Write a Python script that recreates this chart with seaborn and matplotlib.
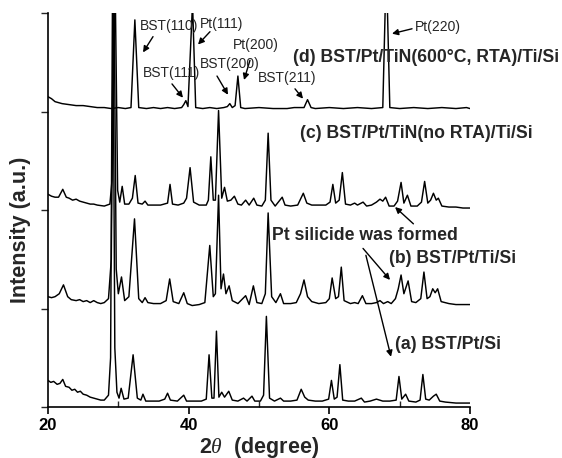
import matplotlib
matplotlib.use("Agg")
import matplotlib.pyplot as plt
import seaborn as sns
import pandas as pd
from matplotlib.ticker import FixedLocator

# ---------------- data ----------------
d_x = [20.0, 20.5, 21.0, 21.5, 22.0, 23.0, 24.0, 25.0, 26.0, 27.0, 28.0, 29.0, 30.0, 31.0, 31.8,
       32.35, 32.9, 34.0, 35.0, 36.0, 37.0, 38.0, 39.0, 39.3, 39.6, 39.9, 40.55, 41.0, 42.0, 43.0,
       44.0, 45.0, 45.5, 45.85, 46.2, 46.6, 47.0, 47.4, 48.0, 50.0, 52.0, 54.0, 55.0, 56.4, 56.9,
       57.4, 58.0, 60.0, 62.0, 64.0, 66.0, 67.6, 68.1, 68.6, 70.0, 72.0, 74.0, 76.0, 78.0, 79.5, 80.0]
d_y = [3.15, 3.13, 3.10, 3.09, 3.08, 3.07, 3.06, 3.06, 3.05, 3.04, 3.04, 3.03, 3.04, 3.03, 3.04,
       3.93, 3.04, 3.03, 3.04, 3.03, 3.04, 3.03, 3.04, 3.07, 3.11, 3.05, 4.10, 3.04, 3.03, 3.04,
       3.03, 3.04, 3.05, 3.08, 3.04, 3.06, 3.36, 3.04, 3.03, 3.04, 3.03, 3.03, 3.04, 3.04, 3.12,
       3.04, 3.03, 3.04, 3.03, 3.04, 3.03, 3.04, 4.50, 3.04, 3.03, 3.04, 3.03, 3.04, 3.03, 3.04, 3.03]

c_x = [20.0, 20.5, 21.0, 21.5, 22.1, 22.6, 23.0, 23.5, 24.0, 24.5, 25.0, 25.5, 26.0, 26.5, 27.0,
       28.0, 28.8, 29.1, 29.5, 29.9, 30.2, 30.55, 30.9, 31.5, 32.0, 32.4, 32.8, 33.4, 33.8, 34.2,
       35.0, 36.0, 37.0, 37.35, 37.7, 38.5, 39.3, 39.7, 40.2, 40.7, 41.5, 42.5, 42.8, 43.15, 43.5,
       43.8, 44.25, 44.7, 45.1, 45.5, 46.0, 46.5, 47.0, 47.5, 48.1, 48.6, 49.25, 49.7, 50.4, 50.9,
       51.3, 51.7, 52.3, 53.3, 53.7, 54.5, 55.5, 56.3, 56.8, 57.5, 58.5, 59.5, 60.1, 60.5, 60.9,
       61.4, 61.85, 62.3, 63.0, 63.6, 64.0, 64.8, 65.3, 66.0, 66.7, 67.2, 67.6, 68.0, 68.5, 69.2,
       69.7, 70.2, 70.6, 71.1, 71.6, 72.5, 73.1, 73.55, 74.0, 74.4, 74.8, 75.2, 75.5, 76.0, 77.0,
       78.0, 79.0, 80.0]
c_y = [2.16, 2.14, 2.13, 2.13, 2.21, 2.13, 2.12, 2.10, 2.11, 2.09, 2.08, 2.07, 2.06, 2.06, 2.05,
       2.04, 2.06, 2.30, 4.60, 2.20, 2.08, 2.24, 2.06, 2.06, 2.12, 2.35, 2.07, 2.06, 2.09, 2.05,
       2.05, 2.05, 2.07, 2.26, 2.06, 2.05, 2.07, 2.12, 2.43, 2.08, 2.05, 2.05, 2.10, 2.54, 2.10,
       2.10, 3.01, 2.12, 2.23, 2.09, 2.10, 2.14, 2.06, 2.05, 2.10, 2.05, 2.12, 2.05, 2.04, 2.10,
       2.78, 2.10, 2.04, 2.13, 2.05, 2.04, 2.05, 2.17, 2.07, 2.05, 2.05, 2.05, 2.08, 2.26, 2.07,
       2.10, 2.38, 2.06, 2.05, 2.07, 2.05, 2.08, 2.04, 2.05, 2.08, 2.11, 2.09, 2.13, 2.04, 2.04,
       2.09, 2.28, 2.07, 2.15, 2.04, 2.04, 2.08, 2.29, 2.07, 2.10, 2.17, 2.10, 2.12, 2.04, 2.03,
       2.03, 2.02, 2.02]

b_x = [20.0, 20.5, 21.0, 21.6, 22.2, 22.8, 23.3, 24.0, 24.5, 25.0, 25.5, 26.0, 26.5, 27.0, 27.5,
       28.0, 28.6, 29.0, 29.35, 29.7, 30.0, 30.45, 30.9, 31.5, 32.3, 32.9, 33.4, 33.8, 34.2, 35.0,
       36.0, 36.8, 37.3, 37.8, 38.6, 39.3, 39.8, 40.5, 41.5, 42.3, 43.0, 43.5, 43.8, 44.25, 44.6,
       44.95, 45.3, 45.75, 46.2, 47.0, 48.1, 48.6, 49.2, 49.7, 50.4, 50.9, 51.3, 51.8, 52.4, 53.05,
       53.5, 54.5, 55.3, 55.9, 56.4, 56.9, 57.5, 58.5, 59.5, 60.0, 60.4, 60.9, 61.3, 61.7, 62.1,
       63.0, 63.6, 64.1, 64.7, 65.2, 66.0, 66.7, 67.2, 67.7, 68.3, 68.8, 69.4, 69.8, 70.2, 70.6,
       71.2, 71.7, 72.3, 73.0, 73.45, 73.9, 74.3, 74.7, 75.05, 75.4, 75.9, 77.0, 78.0, 79.0, 80.0]
b_y = [1.12, 1.11, 1.12, 1.15, 1.24, 1.12, 1.09, 1.08, 1.09, 1.07, 1.08, 1.06, 1.08, 1.06, 1.05,
       1.06, 1.10, 1.50, 4.60, 1.40, 1.15, 1.32, 1.08, 1.12, 1.91, 1.10, 1.06, 1.11, 1.06, 1.05,
       1.05, 1.08, 1.30, 1.07, 1.05, 1.16, 1.05, 1.03, 1.04, 1.06, 1.64, 1.12, 1.15, 2.15, 1.20,
       1.35, 1.15, 1.23, 1.08, 1.05, 1.13, 1.04, 1.23, 1.06, 1.05, 1.15, 1.97, 1.12, 1.06, 1.15,
       1.05, 1.05, 1.06, 1.15, 1.29, 1.12, 1.07, 1.05, 1.06, 1.10, 1.31, 1.10, 1.12, 1.42, 1.08,
       1.05, 1.06, 1.05, 1.13, 1.05, 1.05, 1.06, 1.08, 1.05, 1.07, 1.05, 1.10, 1.20, 1.34, 1.15,
       1.28, 1.07, 1.06, 1.10, 1.37, 1.10, 1.12, 1.20, 1.16, 1.20, 1.07, 1.05, 1.04, 1.04, 1.04]

a_x = [20.0, 20.4, 20.8, 21.3, 21.7, 22.1, 22.5, 23.0, 23.4, 23.8, 24.2, 24.6, 25.0, 25.5, 26.0,
       26.5, 27.0, 27.5, 28.0, 28.6, 28.9, 29.2, 29.5, 29.8, 30.1, 30.4, 30.8, 31.4, 32.1, 32.7,
       33.2, 33.5, 33.9, 34.8, 35.8, 36.6, 37.0, 37.4, 38.4, 39.3, 39.7, 40.8, 41.8, 42.5, 42.9,
       43.3, 43.6, 43.95, 44.3, 44.7, 45.1, 45.7, 46.2, 47.0, 47.8, 48.3, 49.0, 49.4, 50.2, 50.65,
       51.05, 51.5, 52.2, 53.05, 53.5, 54.5, 55.4, 56.0, 56.5, 57.0, 58.0, 59.0, 59.9, 60.3, 60.7,
       61.1, 61.5, 61.9, 62.7, 63.6, 64.55, 65.0, 65.8, 66.7, 67.6, 68.6, 69.5, 69.9, 70.3, 70.85,
       71.3, 72.3, 72.9, 73.3, 73.7, 74.2, 74.8, 75.2, 75.7, 76.5, 78.0, 79.0, 80.0]
a_y = [0.27, 0.25, 0.26, 0.23, 0.24, 0.28, 0.21, 0.20, 0.17, 0.18, 0.15, 0.16, 0.13, 0.12, 0.10,
       0.09, 0.08, 0.07, 0.07, 0.12, 0.50, 4.60, 0.60, 0.15, 0.09, 0.19, 0.08, 0.09, 0.53, 0.09,
       0.07, 0.13, 0.06, 0.06, 0.06, 0.08, 0.14, 0.07, 0.06, 0.12, 0.06, 0.06, 0.06, 0.08, 0.53,
       0.09, 0.09, 0.77, 0.10, 0.15, 0.10, 0.16, 0.07, 0.06, 0.09, 0.06, 0.11, 0.06, 0.06, 0.12,
       0.92, 0.09, 0.06, 0.09, 0.06, 0.06, 0.07, 0.18, 0.10, 0.07, 0.06, 0.06, 0.08, 0.27, 0.08,
       0.10, 0.43, 0.07, 0.06, 0.06, 0.09, 0.05, 0.06, 0.08, 0.06, 0.06, 0.07, 0.31, 0.08, 0.13,
       0.06, 0.05, 0.07, 0.33, 0.08, 0.07, 0.11, 0.13, 0.06, 0.05, 0.04, 0.04, 0.04]

trace_names = ["(a) BST/Pt/Si", "(b) BST/Pt/Ti/Si",
               "(c) BST/Pt/TiN(no RTA)/Ti/Si", "(d) BST/Pt/TiN(600°C, RTA)/Ti/Si"]
x_ticks = [20, 40, 60, 80]
x_minor = [30, 50, 70]
y_ticks = [0, 1, 2, 3, 4]

frames = []
for name, xs, ys in zip(trace_names, [a_x, b_x, c_x, d_x], [a_y, b_y, c_y, d_y]):
    frames.append(pd.DataFrame({"two_theta": xs, "intensity": ys, "sample": name}))
df = pd.concat(frames, ignore_index=True)

# ---------------- figure ----------------
sns.set_theme(style="ticks")
plt.rcParams["font.family"] = ["Liberation Sans", "DejaVu Sans"]
plt.rcParams["mathtext.fontset"] = "custom"
plt.rcParams["mathtext.it"] = "Liberation Serif:italic"
plt.rcParams["mathtext.rm"] = "Liberation Sans:bold"

fig = plt.figure(figsize=(5.62, 4.58), dpi=100)
ax = fig.add_axes([48 / 562, 1 - 407 / 458, (470 - 48) / 562, (407 - 13) / 458])

for name in trace_names:
    sub = df[df["sample"] == name]
    sns.lineplot(data=sub, x="two_theta", y="intensity", ax=ax, color="black",
                 linewidth=1.05, estimator=None, sort=False, legend=False)

ax.set_xlim(20, 80)
ax.set_ylim(0, 4)
ax.xaxis.set_major_locator(FixedLocator(x_ticks))
ax.xaxis.set_minor_locator(FixedLocator(x_minor))
ax.yaxis.set_major_locator(FixedLocator(y_ticks))
ax.set_yticklabels([])
ax.tick_params(axis="x", which="major", direction="out", length=5, width=1.2,
               labelsize=12, pad=3, colors="black")
ax.tick_params(axis="x", which="minor", direction="in", length=4, width=1.0)
ax.tick_params(axis="y", which="major", direction="out", length=5, width=1.0)
for lab in ax.get_xticklabels():
    lab.set_fontweight("bold")
for s in ["top", "right"]:
    ax.spines[s].set_visible(False)
for s in ["left", "bottom"]:
    ax.spines[s].set_linewidth(1.2)
    ax.spines[s].set_color("black")

ax.set_xlabel(r"2$\mathit{\theta}$  (degree)", fontsize=15.5, fontweight="bold", labelpad=1)
ax.set_ylabel("Intensity (a.u.)", fontsize=15.5, fontweight="bold")
ax.yaxis.set_label_coords(-0.04, 0.45)

# sample labels
big = dict(fontsize=12.7, fontweight="bold", ha="left", va="center")
ax.text(54.8, 3.55, trace_names[3], **big)
ax.text(55.8, 2.78, trace_names[2], **big)
ax.text(68.5, 1.51, trace_names[1], **big)
ax.text(69.3, 0.63, trace_names[0], **big)

arrow = dict(arrowstyle="-|>", color="black", lw=1.0, mutation_scale=9,
             shrinkA=0, shrinkB=0)
ax.annotate("Pt silicide was formed", xy=(69.34, 2.03), xytext=(51.85, 1.74),
            fontsize=12.7, fontweight="bold", ha="left", va="center",
            arrowprops=dict(arrow, relpos=(0.78, 1.0)))
ax.annotate("", xy=(68.63, 1.29), xytext=(64.79, 1.61), arrowprops=arrow)
ax.annotate("", xy=(68.77, 0.51), xytext=(65.2, 1.54), arrowprops=arrow)

# peak labels with arrows
peaks = [
    ("BST(110)", (33.08, 3.87), (34.93, 3.76), (33.51, 3.60)),
    ("Pt(111)", (41.61, 3.89), (43.03, 3.81), (41.33, 3.68)),
    ("Pt(200)", (46.3, 3.675), (48.72, 3.52), (47.87, 3.32)),
    ("BST(111)", (33.5, 3.39), (37.63, 3.28), (39.19, 3.14)),
    ("BST(200)", (41.6, 3.48), (44.03, 3.36), (45.59, 3.17)),
    ("BST(211)", (49.86, 3.34), (55.12, 3.23), (56.26, 3.13)),
    ("Pt(220)", (72.18, 3.86), (71.76, 3.84), (68.91, 3.79)),
]
for txt, pos, a0, a1 in peaks:
    ax.text(pos[0], pos[1], txt, fontsize=10, ha="left", va="center")
    ax.annotate("", xy=a1, xytext=a0, arrowprops=arrow)

fig.savefig("out.png", dpi=100)
